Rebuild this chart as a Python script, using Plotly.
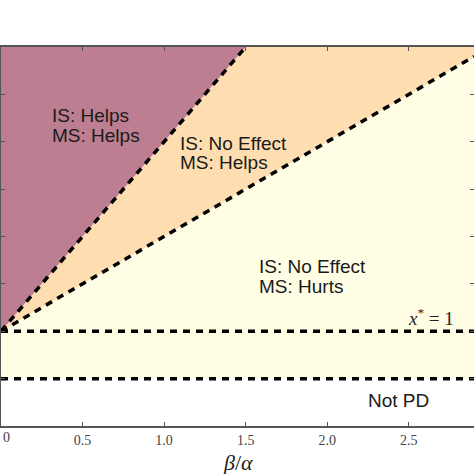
"""Phase diagram: effect of IS / MS by beta/alpha."""

import plotly.graph_objects as go

# Colours
PURPLE = "#BC7E90"
TAN = "#FEDEB0"
CREAM = "#FFFDE4"

# Axis extents and ticks
X_MAX = 2.9
Y_MAX = 8
x_ticks = [0, 0.5, 1.0, 1.5, 2.0, 2.5]
x_tick_text = ["0", "0.5", "1.0", "1.5", "2.0", "2.5"]
y_ticks = [1, 2, 3, 4, 5, 6, 7]

# Boundary lines
steep_x = [0, 1.5]
steep_y = [2, 8]
shallow_x = [0, 2.9]
shallow_y = [2, 7.8]
x_star_y = 2
pd_y = 1

# Region labels: (x, y, line)
region_lines = [
    (0.3, 6.56, "IS: Helps"),
    (0.3, 6.14, "MS: Helps"),
    (1.085, 5.96, "IS: No Effect"),
    (1.085, 5.56, "MS: Helps"),
    (1.57, 3.36, "IS: No Effect"),
    (1.57, 2.94, "MS: Hurts"),
]

SERIF = "Liberation Serif, DejaVu Serif, serif"
SANS = "Liberation Sans, Arial, sans-serif"

fig = go.Figure()

# filled regions
fig.add_trace(go.Scatter(
    x=[0, X_MAX, X_MAX, shallow_x[0]], y=[pd_y, pd_y, shallow_y[1], shallow_y[0]],
    fill="toself", fillcolor=CREAM, mode="none", hoverinfo="skip",
))
fig.add_trace(go.Scatter(
    x=[shallow_x[0], shallow_x[1], X_MAX, steep_x[1]],
    y=[shallow_y[0], shallow_y[1], Y_MAX, steep_y[1]],
    fill="toself", fillcolor=TAN, mode="none", hoverinfo="skip",
))
fig.add_trace(go.Scatter(
    x=[steep_x[0], steep_x[1], 0], y=[steep_y[0], steep_y[1], Y_MAX],
    fill="toself", fillcolor=PURPLE, mode="none", hoverinfo="skip",
))

# dashed boundaries
dash = dict(color="black", width=3.5, dash="7px,6px")
for xs, ys in [(steep_x, steep_y), (shallow_x, shallow_y),
               ([0, X_MAX], [x_star_y, x_star_y]), ([0, X_MAX], [pd_y, pd_y])]:
    fig.add_trace(go.Scatter(x=xs, y=ys, mode="lines", line=dash, hoverinfo="skip"))

for x, y, t in region_lines:
    fig.add_annotation(x=x, y=y, text=t, showarrow=False, xanchor="left", yanchor="middle",
                       font=dict(family=SANS, size=19, color="#1a1a1a"))

fig.add_annotation(x=2.79, y=2.3, text="<i>x</i><sup>*</sup> = 1", showarrow=False,
                   xanchor="right", font=dict(family=SERIF, size=19, color="#222"))
fig.add_annotation(x=2.44, y=0.53, text="Not PD", showarrow=False,
                   font=dict(family=SANS, size=19, color="#1a1a1a"))
fig.add_annotation(x=0.5, xref="paper", y=-0.095, yref="paper", yanchor="middle",
                   text="<i>β</i>/<i>α</i>", showarrow=False,
                   font=dict(family=SERIF, size=22, color="#222"))
# the "0" tick label sits at the very edge, plotly drops it, so place it by hand
fig.add_annotation(x=x_ticks[0], y=-0.03, yref="paper", xanchor="left", yanchor="middle",
                   text=x_tick_text[0], showarrow=False,
                   font=dict(family=SERIF, size=14, color="#444"))

fig.update_layout(
    width=474, height=474, showlegend=False,
    plot_bgcolor="white", paper_bgcolor="white",
    margin=dict(l=1, r=0, t=47, b=48, autoexpand=False),
)
fig.update_xaxes(
    range=[0, X_MAX], tickvals=x_ticks, ticktext=x_tick_text, automargin=False,
    ticks="inside", ticklen=4, tickcolor="#555", showline=True, linecolor="#555", linewidth=1.5,
    mirror="allticks", showgrid=False, zeroline=False,
    tickfont=dict(family=SERIF, size=14, color="#444"),
)
fig.update_yaxes(
    range=[0, Y_MAX], tickvals=y_ticks, showticklabels=False, automargin=False,
    ticks="inside", ticklen=4, tickcolor="#555", showline=True, linecolor="#555", linewidth=1.5,
    mirror="allticks", showgrid=False, zeroline=False,
)

fig.write_html("out.html", config=dict(displayModeBar=False),
               post_script="document.body.style.margin='0';")
